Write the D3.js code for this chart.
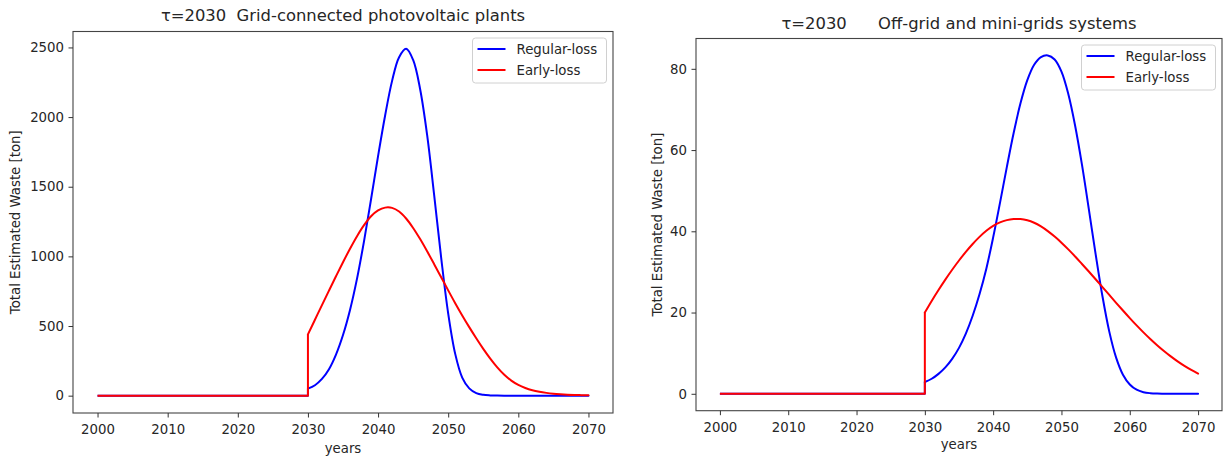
<!DOCTYPE html>
<html><head><meta charset="utf-8">
<script src="https://cdn.jsdelivr.net/npm/d3@7/dist/d3.min.js"></script>
<style>
body{margin:0;background:#fff}
text{font-family:"DejaVu Sans",sans-serif;fill:#262626}
</style>
</head><body>
<svg id="c" width="1224" height="459"></svg>
<script>
// ---- data ----
const flatYears = [2000, 2030];
const flatValues = [0, 0];
const years = [2030,2031,2032,2033,2034,2035,2036,2037,2038,2039,
               2040,2041,2042,2043,2044,2045,2046,2047,2048,2049,
               2050,2051,2052,2053,2054,2055,2056,2057,2058,2059,
               2060,2061,2062,2063,2064,2065,2066,2067,2068,2069,2070];
const gridRegular = [50,75,120,190,295,435,615,840,1110,1410,
                     1720,2010,2260,2430,2490,2410,2200,1870,1440,990,
                     590,300,130,52,18,6,2,0.5,0,0,
                     0,0,0,0,0,0,0,0,0,0,0];
const gridEarly = [440,545,650,754,857,958,1055,1145,1224,1288,
                   1330,1350,1348,1322,1272,1204,1124,1036,944,850,
                   756,664,576,492,412,336,266,203,150,108,
                   77,55,39,28,20,14,10,7,5,3.5,2.5];
const offRegular = [2.9,3.7,4.9,6.5,8.6,11.3,14.8,19.2,24.5,30.8,
                    38.5,47,55.8,64.2,71.5,77.2,81.0,82.9,83.3,82.3,
                    79.3,73.8,66.0,56.4,45.5,34.4,24.0,15.3,8.9,4.7,
                    2.3,1.0,0.4,0.15,0.05,0.02,0,0,0,0,0];
const offEarly = [20.0,22.85,25.55,28.11,30.53,32.81,34.93,36.88,38.63,40.13,
                  41.33,42.2,42.75,43.0,43.0,42.7,42.1,41.2,40.05,38.7,
                  37.2,35.55,33.8,31.96,30.1,28.2,26.27,24.33,22.4,20.5,
                  18.64,16.84,15.12,13.49,11.96,10.53,9.2,7.98,6.87,5.87,4.97];
const xTicks = [2000,2010,2020,2030,2040,2050,2060,2070];
const gridYTicks = [0,500,1000,1500,2000,2500];
const offYTicks = [0,20,40,60,80];
const seriesNames = ["Regular-loss","Early-loss"];
const seriesColors = ["#0000ff","#ff0000"];
const titles = ["τ=2030  Grid-connected photovoltaic plants",
                "τ=2030      Off-grid and mini-grids systems"];
const yLabel = "Total Estimated Waste [ton]";
const xLabel = "years";

// ---- layout ----
const panels = [
  {title:titles[0], l:73, r:613, t:31.5, b:413, yTicks:gridYTicks, series:[gridRegular, gridEarly], ylx:20, ty:20.5, xly:453},
  {title:titles[1], l:696, r:1222, t:38.5, b:410.7, yTicks:offYTicks, series:[offRegular, offEarly], ylx:662, ty:29, xly:449}
];

const svg = d3.select("#c");
const FS = 13.3;

panels.forEach(p => {
  const allVals = p.series.flat().concat(flatValues);
  const yMin = d3.min(allVals), yMax = d3.max(allVals);
  const yPad = (yMax - yMin) * 0.05;
  const xMin = d3.min(flatYears), xMax = d3.max(years);
  const xPad = (xMax - xMin) * 0.05;
  const x = d3.scaleLinear().domain([xMin - xPad, xMax + xPad]).range([p.l, p.r]);
  const y = d3.scaleLinear().domain([yMin - yPad, yMax + yPad]).range([p.b, p.t]);
  const g = svg.append("g");

  // lines
  p.series.forEach((vals, i) => {
    const flat = flatYears.map((yr, k) => [yr, flatValues[k]]);
    flat.push([years[0], vals[0]]);
    const flatLine = d3.line().x(d => x(d[0])).y(d => y(d[1]));
    const curveLine = d3.line().x(d => x(d[0])).y(d => y(d[1])).curve(d3.curveCatmullRom.alpha(0.5));
    g.append("path").attr("d", flatLine(flat))
      .attr("fill","none").attr("stroke",seriesColors[i]).attr("stroke-width",2)
      .attr("stroke-linejoin","round").attr("stroke-linecap","butt");
    g.append("path").attr("d", curveLine(years.map((yr, k) => [yr, vals[k]])))
      .attr("fill","none").attr("stroke",seriesColors[i]).attr("stroke-width",2)
      .attr("stroke-linejoin","round").attr("stroke-linecap","round");
  });

  // frame
  g.append("rect").attr("x",p.l).attr("y",p.t).attr("width",p.r-p.l).attr("height",p.b-p.t)
    .attr("fill","none").attr("stroke","#444").attr("stroke-width",1.1);

  // x axis
  const xa = g.append("g").attr("transform",`translate(0,${p.b})`)
    .call(d3.axisBottom(x).tickValues(xTicks).tickFormat(d3.format("d")).tickSize(4.5).tickPadding(7).tickSizeOuter(0));
  xa.select(".domain").remove();
  xa.selectAll("line").attr("stroke","#333");
  xa.selectAll("text").attr("font-size",FS).style("font-family","DejaVu Sans").attr("fill","#262626");

  // y axis
  const ya = g.append("g").attr("transform",`translate(${p.l},0)`)
    .call(d3.axisLeft(y).tickValues(p.yTicks).tickFormat(d3.format("d")).tickSize(4.5).tickPadding(4.5).tickSizeOuter(0));
  ya.select(".domain").remove();
  ya.selectAll("line").attr("stroke","#333");
  ya.selectAll("text").attr("font-size",FS).style("font-family","DejaVu Sans").attr("fill","#262626");

  // labels
  const cx = (p.l + p.r) / 2, cy = (p.t + p.b) / 2;
  g.append("text").attr("x",cx).attr("y",p.xly).attr("text-anchor","middle")
    .attr("font-size",FS).text(xLabel);
  g.append("text").attr("transform",`translate(${p.ylx},${cy}) rotate(-90)`).attr("text-anchor","middle")
    .attr("font-size",FS).text(yLabel);
  g.append("text").attr("x",cx).attr("y",p.ty).attr("text-anchor","middle")
    .attr("font-size",16.4).style("white-space","pre").text(p.title);

  // legend
  const lw = 134, lh = 45;
  const lx = p.r - 6.5 - lw, ly = p.t + 6.5;
  const lg = g.append("g");
  lg.append("rect").attr("x",lx).attr("y",ly).attr("width",lw).attr("height",lh).attr("rx",3)
    .attr("fill","#fff").attr("fill-opacity",0.8).attr("stroke","#d0d0d0").attr("stroke-width",1);
  seriesNames.forEach((name, i) => {
    const ry = ly + 11 + i * 21;
    lg.append("line").attr("x1",lx+5).attr("x2",lx+33).attr("y1",ry).attr("y2",ry)
      .attr("stroke",seriesColors[i]).attr("stroke-width",2);
    lg.append("text").attr("x",lx+44).attr("y",ry+4.8).attr("font-size",FS).text(name);
  });
});
</script>
</body></html>
